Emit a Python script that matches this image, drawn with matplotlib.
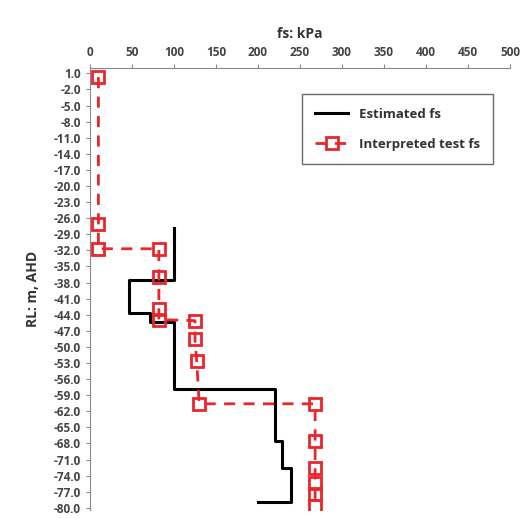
import matplotlib
matplotlib.use('Agg')
import numpy as np
from matplotlib import pyplot as plt

plt.rcParams['font.family'] = ['Open Sans', 'DejaVu Sans']

# Estimated fs (step profile): kPa vs RL
est_fs = [100, 100, 47, 47, 71, 71, 100, 100, 220, 220, 229, 229, 239, 239, 200]
est_rl = [-27.8, -37.6, -37.6, -43.6, -43.6, -45.3, -45.3, -57.9, -57.9, -67.6, -67.6, -72.6, -72.6, -78.9, -78.9]

# Interpreted test fs
test_fs = [10, 10, 10, 82, 82, 82, 82, 125, 125, 127, 130, 268, 268, 268, 268, 268, 268]
test_rl = [0.3, -27.0, -31.7, -31.7, -36.9, -43.0, -44.9, -45.1, -48.6, -52.6, -60.6, -60.6, -67.6, -72.6, -75.4, -77.5, -79.7]

yticks = np.arange(1.0, -80.5, -3.0)
xticks = np.arange(0, 501, 50)

fig = plt.figure(figsize=(5.2, 5.19), dpi=100)
ax = fig.add_axes([90/520, 1 - 510/519, 420/520, 442/519])

ax.plot(est_fs, est_rl, color='black', lw=2.2, label='Estimated fs')
ax.plot(test_fs, test_rl, color='#e8262b', lw=2, ls=(0, (4, 3)), marker='s',
        ms=9, mfc='none', mec='#e8262b', mew=2, label='Interpreted test fs')

ax.set_xlim(0, 500)
ax.set_ylim(-80.4, 2.0)
ax.set_xticks(xticks)
ax.set_yticks(yticks)
ax.set_yticklabels(['%.1f' % v for v in yticks])
ax.xaxis.tick_top()
ax.xaxis.set_label_position('top')
ax.set_xlabel('fs: kPa', fontsize=10, fontweight='bold', color='#333333', labelpad=6)
ax.set_ylabel('RL: m, AHD', fontsize=10, fontweight='bold', color='#333333', labelpad=10)
ax.tick_params(labelsize=8.5, colors='#444444', length=3, color='#888888')
for lab in ax.get_xticklabels() + ax.get_yticklabels():
    lab.set_fontweight('bold')
for s in ['right', 'bottom']:
    ax.spines[s].set_visible(False)
for s in ['top', 'left']:
    ax.spines[s].set_color('#888888')

leg = ax.legend(loc='upper right', bbox_to_anchor=(0.975, 0.955), fontsize=9.5,
                frameon=True, fancybox=False, edgecolor='#444444',
                borderpad=1.0, labelspacing=1.3, handlelength=2.5)
for t in leg.get_texts():
    t.set_fontweight('bold')
    t.set_color('#333333')

fig.savefig('out.png', dpi=100)
